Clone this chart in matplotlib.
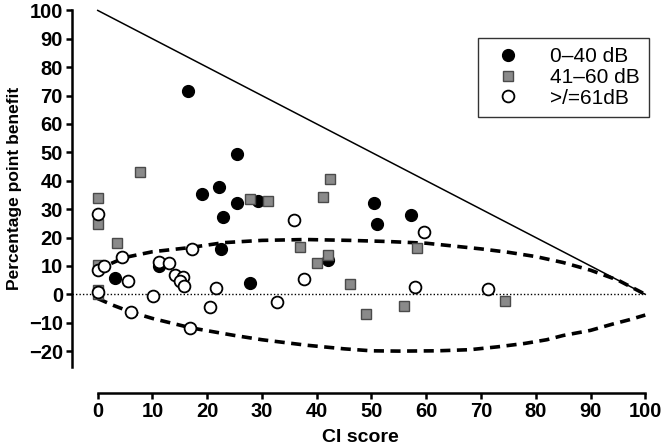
import matplotlib.pyplot as plt
import numpy as np

plt.rcParams['font.family'] = ['Liberation Sans Narrow', 'Liberation Sans', 'DejaVu Sans']

# 0-40 dB group
low_x = [16.4, 25.4, 19.1, 22.2, 29.2, 25.4, 22.9, 22.6, 27.9, 11.1, 3.1, 42.0, 50.5, 51.0, 57.2]
low_y = [71.6, 49.4, 35.5, 37.9, 33.0, 32.3, 27.1, 15.8, 4.1, 10.0, 5.8, 12.2, 32.2, 24.8, 28.0]

# 41-60 dB group
mid_x = [0, 0, 7.8, 3.6, 0, 0, 0, 27.9, 31.1, 41.1, 42.5, 37.0, 42.0, 40.1, 46.0, 58.4, 49.0, 56.0, 74.4]
mid_y = [33.9, 24.8, 43.2, 18.1, 10.2, 1.5, 0.0, 33.7, 33.0, 34.2, 40.7, 16.6, 14.0, 11.0, 3.8, 16.3, -7.1, -4.2, -2.3]

# >/=61 dB group
high_x = [0, 0, 1.1, 0, 4.5, 5.6, 6.0, 10.1, 11.2, 13.1, 14.1, 15.5, 15.1, 15.7, 17.2, 16.9,
          21.6, 20.5, 32.7, 35.9, 37.7, 57.9, 59.5, 71.2]
high_y = [28.3, 8.4, 9.8, 0.8, 13.1, 4.8, -6.1, -0.5, 11.5, 10.9, 6.9, 6.1, 4.6, 2.8, 15.9, -11.8,
          2.3, -4.4, -2.7, 26.2, 5.3, 2.6, 21.8, 1.9]

# ceiling line (max possible benefit)
ceil_x = [0, 100]
ceil_y = [100, 0]

# critical difference limits
upper_x = [0, 2, 5, 10, 17, 23, 30, 38, 46, 53, 60, 65, 70, 75, 80, 85, 90, 95, 100]
upper_y = [7.5, 10.5, 13, 15, 16.5, 18.2, 19, 19.3, 19, 18.6, 18, 17, 16, 14.8, 13.3, 11.2, 8.5, 5, 0]
lower_x = [0, 3, 6, 10, 17, 25, 30, 38, 45, 50, 55, 62, 68, 73, 78, 82, 85, 90, 94, 97, 100]
lower_y = [-1.5, -4, -6.2, -8.5, -11.8, -14.5, -16, -17.9, -19.2, -19.9, -20, -19.9, -19.5, -18.5,
           -17.3, -16, -14.5, -12.7, -10.5, -9, -7.3]

fig = plt.figure(figsize=(6.64, 4.48), dpi=100)
ax = fig.add_axes([72/664, 1 - 367/448, 576/664, 358/448])

xmin, ymin = -4.7, -25.6
ax.plot(ceil_x, ceil_y, color='black', lw=1.1)
ax.plot(upper_x, upper_y, color='black', lw=2.6, linestyle=(0, (2.8, 1.8)))
ax.plot(lower_x, lower_y, color='black', lw=2.6, linestyle=(0, (2.8, 1.8)))
ax.plot([xmin, 100], [0, 0], color='black', lw=1.0, linestyle=(0, (1, 1.5)))

ax.plot(low_x, low_y, 'o', color='black', ms=8.5, label='0–40 dB', zorder=3)
ax.plot(mid_x, mid_y, 's', mfc='#8a8a8a', mec='#4a4a4a', mew=1.0, ms=7.8, label='41–60 dB', zorder=3)
ax.plot(high_x, high_y, 'o', mfc='white', mec='black', mew=1.3, ms=8.5, label='>/=61dB', zorder=4)

ax.set_xlim(xmin, 100.5)
ax.set_ylim(ymin, 100.5)
ax.set_xticks(np.arange(0, 101, 10))
ax.set_yticks(np.arange(-20, 101, 10))
ax.set_yticklabels([str(v).replace('-', '−') for v in range(-20, 101, 10)])

for s in ['top', 'right']:
    ax.spines[s].set_visible(False)
ax.spines['left'].set_linewidth(1.8)
ax.spines['bottom'].set_linewidth(1.8)
ax.spines['left'].set_bounds(ymin, 100)
ax.spines['bottom'].set_bounds(0, 100)
ax.spines['bottom'].set_position(('outward', 18.7))
ax.tick_params(direction='out', length=4.5, width=1.8, labelsize=14.5, pad=2)
for lab in ax.get_xticklabels() + ax.get_yticklabels():
    lab.set_fontweight('bold')

ax.set_xlabel('CI score', fontsize=14, fontweight='bold', labelpad=6)
ax.set_ylabel('Percentage point benefit', fontsize=12.5, fontweight='bold', labelpad=5)

leg = ax.legend(loc='upper left', bbox_to_anchor=(0.705, 0.919), borderaxespad=0,
                prop={'family': ['Liberation Sans', 'DejaVu Sans'], 'size': 15},
                frameon=True, fancybox=False, edgecolor='black', handletextpad=1.0,
                labelspacing=0.08, borderpad=0.45, handlelength=2.0)
leg.get_frame().set_linewidth(1.0)

plt.savefig('out.png', dpi=100)
